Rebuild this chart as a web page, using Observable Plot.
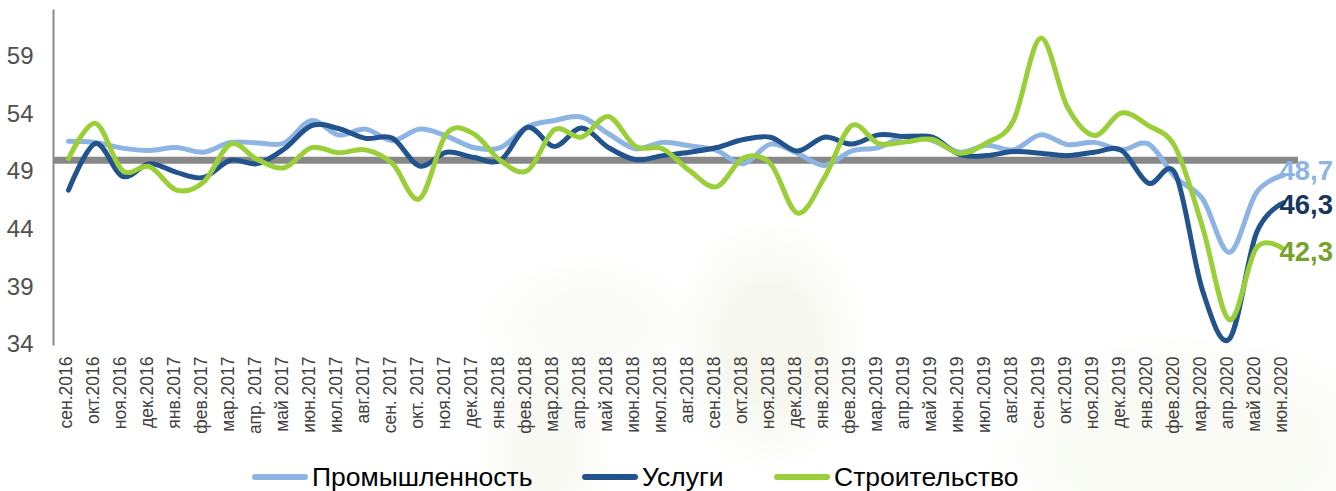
<!DOCTYPE html>
<html lang="ru">
<head>
<meta charset="utf-8">
<script src="https://cdn.jsdelivr.net/npm/d3@7"></script>
<script src="https://cdn.jsdelivr.net/npm/@observablehq/plot@0.6"></script>
<style>
  html, body { margin: 0; width: 1336px; height: 491px; overflow: hidden; background: #fff; }
  body {
    position: relative;
    font-family: "Liberation Sans", Arial, sans-serif;
    background:
      radial-gradient(ellipse 100px 130px at 770px 345px, #f6f8f0 0 45%, rgba(246,248,240,0) 100%),
      radial-gradient(ellipse 115px 70px at 590px 325px, #f9faf5 0 35%, rgba(249,250,245,0) 100%),
      radial-gradient(ellipse 70px 110px at 545px 450px, #f8f9f3 0 40%, rgba(248,249,243,0) 100%),
      radial-gradient(ellipse 210px 120px at 1190px 450px, #f8faf3 0 50%, rgba(248,250,243,0) 100%),
      #fff;
  }
  svg { display: block; background: transparent !important; }
  #legend { position: absolute; left: 0; top: 460px; width: 1336px; height: 31px; color: #000; font-size: 26.5px; }
  #legend .sw { position: absolute; top: 14px; height: 6px; width: 56px; border-radius: 3px; }
  #legend .tx { position: absolute; top: 4px; line-height: 26px; height: 26px; white-space: nowrap; }
</style>
</head>
<body>
<div id="chart"></div>
<div id="legend"></div>
<script>
const months = ["сен.2016","окт.2016","ноя.2016","дек.2016","янв.2017","фев.2017","мар.2017","апр. 2017","май 2017","июн.2017","июл.2017","авг.2017","сен. 2017","окт. 2017","ноя.2017","дек.2017","янв.2018","фев.2018","мар.2018","апр.2018","май 2018","июн.2018","июл.2018","авг.2018","сен.2018","окт.2018","ноя.2018","дек.2018","янв.2019","фев.2019","мар.2019","апр.2019","май 2019","июн.2019","июл.2019","авг.2018","сен.2019","окт.2019","ноя.2019","дек.2019","янв.2020","фев.2020","мар.2020","апр.2020","май 2020","июн.2020"];
const industry = [51.65,51.55,51.05,50.85,51.1,50.7,51.55,51.5,51.5,53.45,52.2,52.7,51.7,52.7,52.1,51.1,51.1,52.9,53.45,53.75,52.3,51,51.55,51.25,50.85,49.7,51.4,50.6,49.55,50.8,51.1,52.1,51.7,50.7,51.3,50.9,52.2,51.35,51.55,50.9,51.4,48.5,46.65,42,47.2,48.7];
const services = [47.4,51.45,48.6,49.7,48.95,48.5,50,49.7,51,53,52.75,51.9,51.9,49.5,50.7,50.25,50,52.85,51.2,52.8,51.1,50.05,50.4,50.7,51.1,51.8,52,50.8,52,51.4,52.2,52.05,52,50.5,50.4,50.75,50.6,50.4,50.7,50.85,48,48.8,38.7,34.5,43.7,46.3];
const construction = [50.15,53.2,49.1,49.45,47.4,48.1,51.4,50.05,49.35,51.1,50.65,50.9,49.7,46.65,52.3,52.3,49.97,49.1,52.65,52,53.8,51.2,51,49.1,47.7,50.2,49.7,45.4,48.5,53,51.45,51.6,51.8,50.6,51.5,53.45,60.6,54.6,52.15,54.1,53,51.1,44.2,36.15,42.4,42.3];
const yTicks = [34,39,44,49,54,59];
const threshold = 50;
const names = ["Промышленность","Услуги","Строительство"];
const colors = ["#8db4e2","#23538c","#9bcf39"];
const labelColors = ["#8db4e2","#17375e","#77a32c"];

const idx = d3.range(months.length);
const last = idx[idx.length - 1];
const comma = v => String(v).replace(".", ",");
const lineMark = (vals, c) => Plot.line(idx, {x: i => i, y: i => vals[i], stroke: c, strokeWidth: 5, curve: "cardinal", tension: 0, strokeLinecap: "round", strokeLinejoin: "round"});
const endLabel = (vals, c, dy) => Plot.text([last], {x: i => i, y: i => vals[i], text: i => comma(vals[i]), fill: c, fontSize: 27.5, fontWeight: "bold", textAnchor: "start", dx: -4, dy, fontFamily: "Liberation Sans"});

const chart = Plot.plot({
  width: 1336, height: 460,
  marginLeft: 53, marginRight: 38, marginTop: 10, marginBottom: 116,
  style: {fontFamily: '"Liberation Sans", Arial, sans-serif', background: "transparent"},
  x: {type: "point", domain: idx, padding: 0.5},
  y: {domain: [34, 63], ticks: yTicks},
  marks: [
    Plot.axisY(yTicks, {tickSize: 0, tickPadding: 20, fontSize: 24, fill: "#505050", label: null}),
    Plot.axisX(idx, {tickRotate: -90, tickSize: 0, tickPadding: 12, fontSize: 17.5, fill: "#404040", dx: -2, tickFormat: i => months[i], label: null}),
    Plot.frame({anchor: "left", stroke: "#8c8c8c", strokeWidth: 2}),
    Plot.ruleY([threshold], {stroke: "#888888", strokeWidth: 7}),
    lineMark(industry, colors[0]),
    lineMark(services, colors[1]),
    lineMark(construction, colors[2]),
    endLabel(industry, labelColors[0], -4),
    endLabel(services, labelColors[1], 2),
    endLabel(construction, labelColors[2], 3)
  ]
});
document.getElementById("chart").append(chart);

const legend = document.getElementById("legend");
const swLeft = [252, 582, 774], txLeft = [312, 642, 834];
names.forEach((n, i) => {
  const s = document.createElement("div"); s.className = "sw"; s.style.left = swLeft[i] + "px"; s.style.background = colors[i]; legend.append(s);
  const t = document.createElement("div"); t.className = "tx"; t.style.left = txLeft[i] + "px"; t.textContent = n; legend.append(t);
});
</script>
</body>
</html>
